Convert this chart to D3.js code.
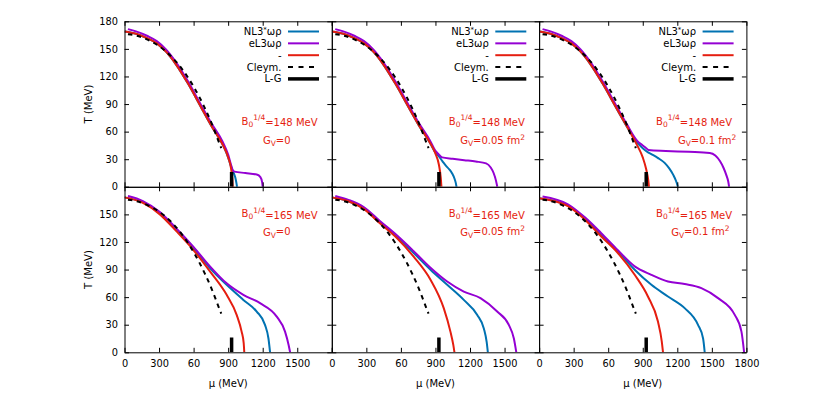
<!DOCTYPE html>
<html lang="en">
<head>
<meta charset="utf-8">
<title>T vs mu</title>
<script src="https://cdn.jsdelivr.net/npm/d3@7"></script>
<style>
  body { margin: 0; background: #fff; }
  text { font-family: "DejaVu Sans", sans-serif; }
</style>
</head>
<body>
<script>
// axis ticks (the "60" label is how it reads on the original)
const muTicks = [0, 300, 600, 900, 1200, 1500, 1800];
const muTickLabels = ["0", "300", "60", "900", "1200", "1500", "1800"];
const tTicks = [0, 30, 60, 90, 120, 150, 180];

// [mu (MeV), T (MeV)]
const cleymans = [[30,166],[100,164.5],[200,160],[300,153],[400,142.5],[500,128],[600,109],[700,85],[760,68],[800,55],[840,42]];
const lgPoint = [[930,0],[930,16]];

// B0^1/4 = 148 MeV
const nl3B148G0   = [[0,169],[100,166.5],[200,161.5],[280,156],[360,147],[445,133.5],[550,112.5],[669,85.5],[760,65],[852,46],[900,32],[925,22],[945,16],[962,10],[972,4],[977,0]];
const el3B148G0   = [[30,171.5],[100,169],[200,164],[280,158.5],[360,149.5],[445,136],[550,115],[669,88],[760,68],[852,49],[900,35],[925,24],[940,18],[955,16.5],[1050,15],[1148,13.3],[1180,10.5],[1195,5],[1200,0]];
const redB148G0   = [[0,169],[100,166.5],[200,161.5],[280,156],[360,147],[445,133.5],[550,112.5],[669,85.5],[760,65],[852,46],[900,32],[925,20],[936,8],[940,0]];

const nl3B148G005 = [[0,169],[100,166.5],[200,161.5],[280,156],[360,147],[445,133.5],[550,112.5],[669,86],[760,66],[852,48],[900,37],[930,33],[960,28],[990,23],[1020,19],[1045,14.5],[1065,9],[1077,4],[1083,0]];
const el3B148G005 = [[30,171.5],[100,169],[200,164],[280,158.5],[360,149.5],[445,136],[550,115],[669,88.5],[760,68.5],[852,50.5],[900,39],[930,35],[958,32],[1050,30.5],[1150,29],[1250,27.5],[1340,25.5],[1380,21],[1405,15],[1425,7],[1437,0]];
const redB148G005 = [[0,169],[100,166.5],[200,161.5],[280,156],[360,147],[445,133.5],[550,112.5],[669,86],[760,66],[852,48],[900,36],[930,24],[946,10],[952,0]];

const nl3B148G01  = [[0,169],[100,166.5],[200,161.5],[280,156],[360,147],[445,133.5],[550,112.5],[669,86],[760,66],[852,48],[900,42],[940,38],[975,35.5],[1030,31.5],[1090,26],[1130,20],[1165,13],[1190,6],[1205,0]];
const el3B148G01  = [[30,171.5],[100,169],[200,164],[280,158.5],[360,149.5],[445,136],[550,115],[669,88.5],[760,68.5],[852,50],[900,45],[930,42],[950,40],[1100,39],[1300,38],[1482,36.8],[1530,34],[1570,28],[1600,21],[1625,13],[1642,6],[1650,0]];
const redB148G01  = [[0,169],[100,166.5],[200,161.5],[280,156],[360,147],[445,133.5],[550,112.5],[669,86],[760,66],[852,45],[900,32],[930,19],[948,7],[954,0]];

// B0^1/4 = 165 MeV
const nl3B165G0   = [[0,168.5],[160,163],[307,151],[452,133],[597,114],[742,91.6],[887,73.4],[1032,57],[1148,44.3],[1220,29.8],[1250,15],[1264,0]];
const el3B165G0   = [[30,170],[160,164.5],[307,152.5],[452,134.5],[597,115],[742,93.5],[887,75],[1032,62.5],[1177,53.4],[1322,38.8],[1394,22.5],[1425,8],[1438,0]];
const redB165G0   = [[0,168.5],[160,162.5],[307,150],[452,131.5],[597,111.5],[742,88],[887,62.5],[974,40.7],[1017,22.5],[1035,10],[1040,0]];

const nl3B165G005 = [[0,168.5],[150,164],[277,156.5],[420,141],[567,125.5],[711,108],[857,89.8],[1002,73.4],[1146,57],[1263,40.7],[1320,26],[1345,11],[1355,0]];
const el3B165G005 = [[30,170],[150,165.5],[277,158],[420,142.5],[567,127],[711,110],[857,92],[1002,77],[1146,66],[1291,58.9],[1436,44.3],[1537,29.8],[1581,15],[1602,0]];
const redB165G005 = [[0,168.5],[150,164],[277,156],[420,140],[567,124],[711,104],[857,79],[972,48],[1030,22.5],[1055,8],[1065,0]];

const nl3B165G01  = [[0,167.5],[250,159.5],[400,145],[540,128],[684,110],[830,89.8],[975,73.4],[1119,60.7],[1264,48],[1380,29.8],[1424,15],[1438,0]];
const el3B165G01  = [[30,169.5],[250,161],[400,146.5],[540,129.5],[684,111],[830,93.5],[975,84.3],[1119,77],[1264,74.2],[1409,69.8],[1554,58.9],[1699,40.7],[1757,22.5],[1780,0]];
const redB165G01  = [[0,167.5],[250,158.9],[400,144],[540,126],[684,108],[830,84.3],[945,60.7],[1032,33.4],[1065,12],[1076,0]];

const bagValues = ["148", "165"];
const gvValues = ["0", "0.05", "0.1"];

const series = [
  [[nl3B148G0, el3B148G0, redB148G0], [nl3B148G005, el3B148G005, redB148G005], [nl3B148G01, el3B148G01, redB148G01]],
  [[nl3B165G0, el3B165G0, redB165G0], [nl3B165G005, el3B165G005, redB165G005], [nl3B165G01, el3B165G01, redB165G01]]
];

const colors = ["#0072b2", "#9400d3", "#e51e10"];
const labelRed = "#e51e10";

// label anchors [mu, T] for the G_V line, per column and row
const gvLabelPos = [
  [[1322, 50], [1396, 50], [1459, 50]],
  [[1322, 130.5], [1396, 130.5], [1400, 130.5]]
];

const W = 830, H = 415;
const x0 = 124.5, pw = 207.3;
const rowsY = [[21.3, 186.8], [186.8, 352.3]];

const svg = d3.select("body").append("svg")
  .attr("width", W)
  .attr("height", H);

const defs = svg.append("defs");

for (let r = 0; r < 2; r++) {
  for (let c = 0; c < 3; c++) {
    const left = x0 + c * pw;
    const x = d3.scaleLinear().domain([0, 1800]).range([left, left + pw]);
    const y = d3.scaleLinear().domain([0, 180]).range([rowsY[r][1], rowsY[r][0]]);
    const g = svg.append("g");

    const clipId = "clip" + r + c;
    defs.append("clipPath").attr("id", clipId)
      .append("rect")
      .attr("x", left).attr("y", rowsY[r][0])
      .attr("width", pw).attr("height", rowsY[r][1] - rowsY[r][0]);

    const line = d3.line()
      .x(d => x(d[0]))
      .y(d => y(d[1]))
      .curve(d3.curveMonotoneX);

    const plot = g.append("g").attr("clip-path", "url(#" + clipId + ")");

    series[r][c].forEach((s, i) => {
      plot.append("path")
        .datum(s)
        .attr("d", line)
        .attr("fill", "none")
        .attr("stroke", colors[i])
        .attr("stroke-width", 2);
    });

    plot.append("path")
      .datum(cleymans)
      .attr("d", line)
      .attr("fill", "none")
      .attr("stroke", "#000")
      .attr("stroke-width", 2)
      .attr("stroke-dasharray", "4.5,4.5");

    plot.append("path")
      .datum(lgPoint)
      .attr("d", d3.line().x(d => x(d[0])).y(d => y(d[1])))
      .attr("stroke", "#000")
      .attr("stroke-width", 3.5);

    // axes: ticks inward on all four sides
    const xVals = c === 2 ? muTicks : muTicks.slice(0, 6);
    const yVals = r === 0 ? tTicks : tTicks.slice(0, 6);

    const xAxisB = d3.axisBottom(x)
      .tickValues(muTicks)
      .tickSizeInner(-4.5).tickSizeOuter(0).tickPadding(7.5)
      .tickFormat(d => r === 1 && xVals.includes(d) ? muTickLabels[muTicks.indexOf(d)] : "");
    const xAxisT = d3.axisTop(x).tickValues(muTicks)
      .tickSizeInner(-4.5).tickSizeOuter(0).tickFormat("");
    const yAxisL = d3.axisLeft(y).tickValues(tTicks)
      .tickSizeInner(-4.5).tickSizeOuter(0).tickPadding(6.5)
      .tickFormat(d => c === 0 && yVals.includes(d) ? String(d) : "");
    const yAxisR = d3.axisRight(y).tickValues(tTicks)
      .tickSizeInner(-4.5).tickSizeOuter(0).tickFormat("");

    g.append("g").attr("transform", "translate(0," + rowsY[r][1] + ")").call(xAxisB);
    g.append("g").attr("transform", "translate(0," + rowsY[r][0] + ")").call(xAxisT);
    g.append("g").attr("transform", "translate(" + left + ",0)").call(yAxisL);
    g.append("g").attr("transform", "translate(" + (left + pw) + ",0)").call(yAxisR);

    g.selectAll(".tick text")
      .attr("font-family", "DejaVu Sans, sans-serif")
      .attr("font-size", 9.8)
      .attr("fill", "#000");
    g.selectAll(".domain, .tick line").attr("stroke", "#000");

    // annotations
    const bText = g.append("text")
      .attr("x", x(1346))
      .attr("y", y(r === 0 ? 70.7 : 150.5))
      .attr("dy", "0.35em")
      .attr("text-anchor", "middle")
      .attr("font-size", 10)
      .attr("fill", labelRed);
    bText.append("tspan").text("B");
    bText.append("tspan").attr("font-size", 7.5).attr("dy", "0.25em").text("0");
    bText.append("tspan").attr("font-size", 7.5).attr("dy", "-0.9em").text("1/4");
    bText.append("tspan").attr("dy", "0.6em").text("=" + bagValues[r] + " MeV");

    const gp = gvLabelPos[r][c];
    const gText = g.append("text")
      .attr("x", x(gp[0]))
      .attr("y", y(gp[1]))
      .attr("dy", "0.35em")
      .attr("text-anchor", "middle")
      .attr("font-size", 10)
      .attr("fill", labelRed);
    gText.append("tspan").text("G");
    gText.append("tspan").attr("font-size", 7.5).attr("dy", "0.25em").text("V");
    gText.append("tspan").attr("dy", "-0.25em").text("=" + gvValues[c] + (c > 0 ? " fm" : ""));
    if (c > 0) gText.append("tspan").attr("font-size", 7.5).attr("dy", "-0.55em").text("2");

    // legend in top row
    if (r === 0) {
      const names = ["NL3", "eL3ωρ", "-", "Cleym.", "L-G"];
      names.forEach((n, i) => {
        const ly = 31.5 + i * 11.85;
        const t = g.append("text")
          .attr("x", left + 157)
          .attr("y", ly)
          .attr("dy", "0.35em")
          .attr("text-anchor", "end")
          .attr("font-size", 10)
          .attr("fill", "#000");
        if (i === 0) {
          t.append("tspan").text("NL3");
          t.append("tspan").attr("font-size", 7).attr("dy", "-0.5em").text("*");
          t.append("tspan").attr("dy", "0.35em").text("ωρ");
        } else {
          t.text(n);
        }
        const seg = g.append("line")
          .attr("x1", left + 163.5).attr("x2", left + 194.5)
          .attr("y1", ly).attr("y2", ly);
        if (i < 3) seg.attr("stroke", colors[i]).attr("stroke-width", 2);
        else if (i === 3) seg.attr("stroke", "#000").attr("stroke-width", 2).attr("stroke-dasharray", "5,5.5");
        else seg.attr("stroke", "#000").attr("stroke-width", 3.5);
      });
    }

    // axis titles
    if (r === 1) {
      g.append("text")
        .attr("x", left + pw / 2)
        .attr("y", 386.5)
        .attr("text-anchor", "middle")
        .attr("font-size", 10)
        .text("μ (MeV)");
    }
    if (c === 0) {
      g.append("text")
        .attr("transform", "translate(92," + ((rowsY[r][0] + rowsY[r][1]) / 2) + ") rotate(-90)")
        .attr("text-anchor", "middle")
        .attr("font-size", 10)
        .text("T (MeV)");
    }
  }
}
</script>
</body>
</html>
